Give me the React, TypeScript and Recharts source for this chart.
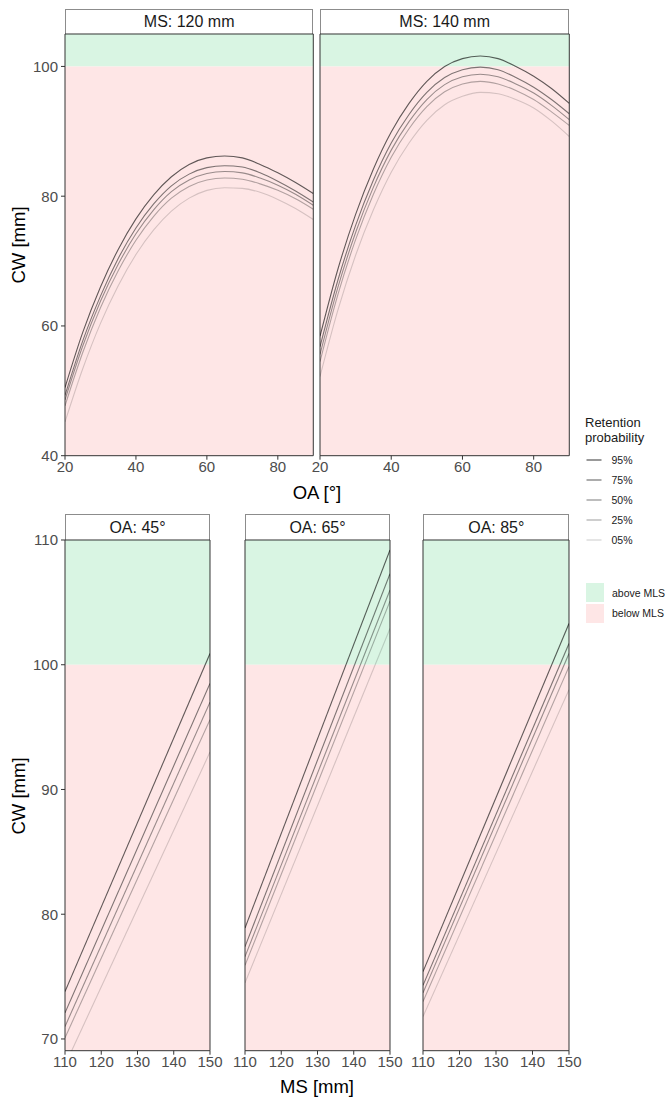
import React from 'react';
import { LineChart, Line, XAxis, YAxis, ReferenceArea } from 'recharts';

// ---------- data ----------
const PROB_LABELS = ['95%', '75%', '50%', '25%', '05%'];
const PROB_KEYS = ['p95', 'p75', 'p50', 'p25', 'p05'];

// Top row: CW vs OA for fixed MS
const OA = [20, 25, 30, 35, 40, 45, 50, 55, 60, 65, 70, 75, 80, 85, 90];
const MS120_P95 = [50.5, 59.0, 66.0, 71.8, 76.5, 80.2, 83.0, 84.9, 85.9, 86.2, 85.9, 84.9, 83.6, 82.1, 80.4];
const MS120_P75 = [49.3, 57.7, 64.6, 70.4, 75.1, 78.8, 81.6, 83.4, 84.4, 84.7, 84.5, 83.6, 82.3, 80.8, 79.1];
const MS120_P50 = [48.6, 56.9, 63.8, 69.5, 74.2, 77.9, 80.7, 82.5, 83.5, 83.8, 83.6, 82.8, 81.7, 80.3, 78.6];
const MS120_P25 = [47.7, 55.9, 62.8, 68.5, 73.2, 76.9, 79.7, 81.5, 82.5, 82.8, 82.6, 81.9, 80.9, 79.6, 78.0];
const MS120_P05 = [45.2, 53.4, 60.4, 66.2, 71.0, 74.8, 77.7, 79.7, 80.9, 81.3, 81.2, 80.6, 79.5, 78.1, 76.4];

const MS140_P95 = [58.4, 68.7, 77.2, 84.2, 89.9, 94.3, 97.7, 100.0, 101.2, 101.6, 101.2, 100.0, 98.5, 96.6, 94.3];
const MS140_P75 = [56.8, 67.0, 75.5, 82.5, 88.2, 92.6, 96.0, 98.3, 99.5, 99.9, 99.5, 98.3, 96.8, 94.9, 92.7];
const MS140_P50 = [55.6, 65.9, 74.4, 81.4, 87.1, 91.5, 94.9, 97.2, 98.4, 98.8, 98.4, 97.3, 95.9, 94.0, 91.8];
const MS140_P25 = [54.5, 64.8, 73.3, 80.3, 86.0, 90.4, 93.8, 96.1, 97.3, 97.7, 97.3, 96.3, 94.9, 93.0, 90.9];
const MS140_P05 = [52.2, 62.4, 70.9, 77.9, 83.7, 88.2, 91.7, 94.1, 95.4, 96.0, 95.8, 94.9, 93.6, 91.6, 89.2];

// Bottom row: CW vs MS for fixed OA (straight lines)
const MS = [110, 150];
const OA45_P95 = [73.8, 100.9];
const OA45_P75 = [72.1, 98.5];
const OA45_P50 = [71.0, 97.0];
const OA45_P25 = [70.1, 95.6];
const OA45_P05 = [67.9, 93.0];

const OA65_P95 = [78.9, 109.2];
const OA65_P75 = [77.4, 107.3];
const OA65_P50 = [76.6, 106.0];
const OA65_P25 = [75.9, 105.1];
const OA65_P05 = [74.5, 102.9];

const OA85_P95 = [75.4, 103.3];
const OA85_P75 = [74.3, 101.7];
const OA85_P50 = [73.7, 100.9];
const OA85_P25 = [73.0, 99.85];
const OA85_P05 = [71.8, 98.0];

const MLS = 100;
const TOP_X_DOMAIN = [20, 90];
const TOP_Y_DOMAIN = [40, 105];
const TOP_X_TICKS = [20, 40, 60, 80];
const TOP_Y_TICKS = [40, 60, 80, 100];
const BOT_X_DOMAIN = [110, 150];
const BOT_Y_DOMAIN = [69.06, 110];
const BOT_X_TICKS = [110, 120, 130, 140, 150];
const BOT_Y_TICKS = [70, 80, 90, 100, 110];

function build(xs: number[], xKey: string, series: number[][]) {
  return xs.map((x, i) => {
    const row: Record<string, number> = { [xKey]: x };
    PROB_KEYS.forEach((k, j) => {
      row[k] = series[j][i];
    });
    return row;
  });
}

const topData120 = build(OA, 'oa', [MS120_P95, MS120_P75, MS120_P50, MS120_P25, MS120_P05]);
const topData140 = build(OA, 'oa', [MS140_P95, MS140_P75, MS140_P50, MS140_P25, MS140_P05]);
const botData45 = build(MS, 'ms', [OA45_P95, OA45_P75, OA45_P50, OA45_P25, OA45_P05]);
const botData65 = build(MS, 'ms', [OA65_P95, OA65_P75, OA65_P50, OA65_P25, OA65_P05]);
const botData85 = build(MS, 'ms', [OA85_P95, OA85_P75, OA85_P50, OA85_P25, OA85_P05]);

// ---------- styles ----------
const FONT = '"Liberation Sans", Arial, Helvetica, sans-serif';
const GREEN = '#d9f5e3';
const PINK = '#fee6e6';
const LINE_OPACITY = [0.62, 0.5, 0.4, 0.3, 0.16];
const BORDER = '#333333';
const TICK_STYLE = { fill: '#4d4d4d', fontSize: 15, fontFamily: FONT };

type PanelProps = {
  label: string;
  data: Record<string, number>[];
  xKey: string;
  plotLeft: number;
  plotTop: number;
  plotW: number;
  plotH: number;
  stripTop: number;
  stripH: number;
  showY: boolean;
  xDomain: number[];
  yDomain: number[];
  xTicks: number[];
  yTicks: number[];
  curve: 'monotone' | 'linear';
};

function Panel(p: PanelProps) {
  const yAxisW = p.showY ? 55 : 0;
  const mL = p.showY ? 0 : 20;
  const mR = 20;
  const mT = 10;
  const xAxisH = 30;
  const chartLeft = p.plotLeft - yAxisW - mL;
  const chartW = yAxisW + mL + p.plotW + mR;
  const chartH = mT + p.plotH + xAxisH;
  return (
    <>
      <div
        style={{
          position: 'absolute',
          left: p.plotLeft,
          top: p.stripTop,
          width: p.plotW,
          height: p.stripH,
          boxSizing: 'border-box',
          border: '1px solid #8c8c8c',
          borderBottom: 'none',
          background: '#ffffff',
          color: '#1a1a1a',
          fontFamily: FONT,
          fontSize: 16,
          display: 'flex',
          alignItems: 'center',
          justifyContent: 'center',
          whiteSpace: 'nowrap',
        }}
      >
        {p.label}
      </div>
      <div style={{ position: 'absolute', left: chartLeft, top: p.plotTop - mT }}>
        <LineChart
          width={chartW}
          height={chartH}
          data={p.data}
          margin={{ top: mT, right: mR, left: mL, bottom: 0 }}
        >
          <XAxis
            dataKey={p.xKey}
            type="number"
            domain={p.xDomain}
            ticks={p.xTicks}
            allowDataOverflow
            height={xAxisH}
            axisLine={false}
            tickLine={{ stroke: BORDER }}
            tickSize={4}
            tickMargin={2}
            tick={TICK_STYLE}
            interval={0}
          />
          <YAxis
            type="number"
            domain={p.yDomain}
            ticks={p.yTicks}
            allowDataOverflow
            hide={!p.showY}
            width={yAxisW}
            axisLine={false}
            tickLine={{ stroke: BORDER }}
            tickSize={4}
            tickMargin={3}
            tick={TICK_STYLE}
            interval={0}
          />
          <ReferenceArea y1={MLS} y2={p.yDomain[1]} fill={GREEN} fillOpacity={1} stroke="none" />
          <ReferenceArea y1={p.yDomain[0]} y2={MLS} fill={PINK} fillOpacity={1} stroke="none" />
          {PROB_KEYS.map((k, i) => (
            <Line
              key={k}
              dataKey={k}
              type={p.curve}
              stroke="#000000"
              strokeOpacity={LINE_OPACITY[i]}
              strokeWidth={1.1}
              dot={false}
              activeDot={false}
              isAnimationActive={false}
            />
          ))}
          <ReferenceArea
            x1={p.xDomain[0]}
            x2={p.xDomain[1]}
            y1={p.yDomain[0]}
            y2={p.yDomain[1]}
            fill="none"
            stroke={BORDER}
            strokeWidth={1}
          />
        </LineChart>
      </div>
    </>
  );
}

function AxisTitle({ text, x, y, rotate }: { text: string; x: number; y: number; rotate?: boolean }) {
  return (
    <div
      style={{
        position: 'absolute',
        left: x,
        top: y,
        transform: `translate(-50%, -50%)${rotate ? ' rotate(-90deg)' : ''}`,
        fontFamily: FONT,
        fontSize: 18.5,
        color: '#000',
        whiteSpace: 'nowrap',
        lineHeight: 1,
      }}
    >
      {text}
    </div>
  );
}

function Legend() {
  return (
    <div style={{ position: 'absolute', left: 585, top: 415, fontFamily: FONT, color: '#1a1a1a', whiteSpace: 'nowrap' }}>
      <div style={{ fontSize: 13, lineHeight: '15px' }}>
        Retention
        <br />
        probability
      </div>
      <div style={{ marginTop: 5 }}>
        {PROB_LABELS.map((lab, i) => (
          <div key={lab} style={{ display: 'flex', alignItems: 'center', height: 20 }}>
            <svg width={22} height={20}>
              <line x1={1.5} x2={16.5} y1={10} y2={10} stroke="#000" strokeOpacity={LINE_OPACITY[i]} strokeWidth={1.3} />
            </svg>
            <span style={{ fontSize: 10.5, marginLeft: 4.5 }}>{lab}</span>
          </div>
        ))}
      </div>
      <div style={{ marginTop: 33 }}>
        {[
          { lab: 'above MLS', col: GREEN },
          { lab: 'below MLS', col: PINK },
        ].map((d) => (
          <div key={d.lab} style={{ display: 'flex', alignItems: 'center', height: 19, marginBottom: 1.5 }}>
            <div style={{ width: 18, height: 19, background: d.col, marginLeft: 1 }} />
            <span style={{ fontSize: 10.5, marginLeft: 8 }}>{d.lab}</span>
          </div>
        ))}
      </div>
    </div>
  );
}

export default function App() {
  const topCommon = {
    xKey: 'oa',
    plotTop: 34,
    plotH: 421.7,
    stripTop: 9,
    stripH: 25,
    xDomain: TOP_X_DOMAIN,
    yDomain: TOP_Y_DOMAIN,
    xTicks: TOP_X_TICKS,
    yTicks: TOP_Y_TICKS,
    curve: 'monotone' as const,
  };
  const botCommon = {
    xKey: 'ms',
    plotTop: 540,
    plotH: 510.7,
    stripTop: 514,
    stripH: 26,
    xDomain: BOT_X_DOMAIN,
    yDomain: BOT_Y_DOMAIN,
    xTicks: BOT_X_TICKS,
    yTicks: BOT_Y_TICKS,
    curve: 'linear' as const,
  };
  return (
    <div style={{ position: 'relative', width: 665, height: 1100, background: '#fff', overflow: 'hidden' }}>
      <style>{'body{margin:0}'}</style>
      <Panel {...topCommon} label="MS: 120 mm" data={topData120} plotLeft={65} plotW={248.3} showY />
      <Panel {...topCommon} label="MS: 140 mm" data={topData140} plotLeft={320} plotW={249.3} showY={false} />
      <Panel {...botCommon} label="OA: 45°" data={botData45} plotLeft={65} plotW={145} showY />
      <Panel {...botCommon} label="OA: 65°" data={botData65} plotLeft={245} plotW={145} showY={false} />
      <Panel {...botCommon} label="OA: 85°" data={botData85} plotLeft={423.3} plotW={146} showY={false} />
      <AxisTitle text="CW [mm]" x={18.5} y={245} rotate />
      <AxisTitle text="CW [mm]" x={18.5} y={796} rotate />
      <AxisTitle text="OA [°]" x={317} y={493} />
      <AxisTitle text="MS [mm]" x={317} y={1087} />
      <Legend />
    </div>
  );
}
